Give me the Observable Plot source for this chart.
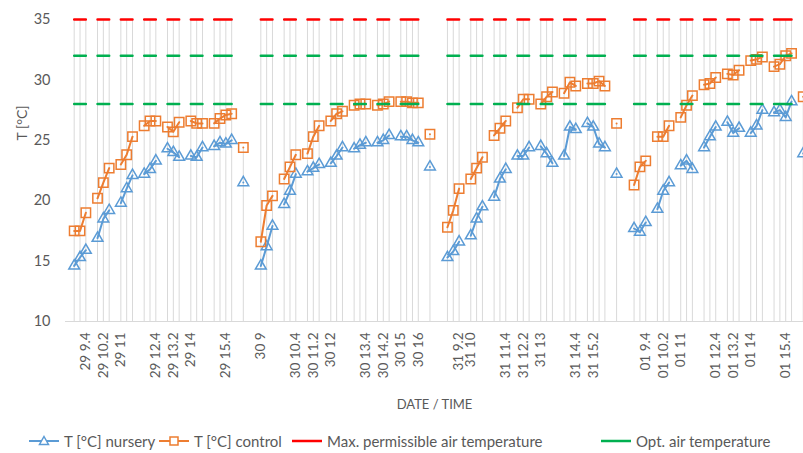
<!DOCTYPE html>
<html><head><meta charset="utf-8">
<script src="https://cdn.jsdelivr.net/npm/d3@7"></script>
<script src="https://cdn.jsdelivr.net/npm/@observablehq/plot@0.6"></script>
<style>
html,body{margin:0;padding:0;background:#fff;overflow:hidden;width:803px;height:453px;}
#chart{width:803px;height:428px;}
.legend{position:relative;height:25px;font:15px Lato,sans-serif;color:#595959;}
.item{position:absolute;top:0;height:25px;display:flex;align-items:center;white-space:nowrap;}
.item svg{margin-right:4px;}
</style></head><body><div id="chart"></div><div class="legend" id="legend"></div>
<script>
// ---- data ----
const days = ["29", "30", "31", "01"];
const dayStart = [0, 32, 64, 96];           // first category of each day
const slotOffset = [0,1,2, 4,5,6, 8,9,10, 12,13,14, 16,17,18, 20,21,22, 24,25,26,27, 29];
const refSlotCount = 22;                    // reference series present on the first 22 slots

const nursery29 = [14.6,15.3,15.9, 16.9,18.5,19.2, 19.8,21.0,22.1, 22.2,22.6,23.3, 24.3,24.0,23.6, 23.7,23.6,24.4, 24.5,24.8,24.7,25.0, 21.5];
const nursery30 = [14.6,16.2,17.9, 19.7,20.8,22.2, 22.4,22.7,23.0, 23.1,23.7,24.4, 24.3,24.6,24.8, 24.8,25.0,25.4, 25.3,25.3,25.0,24.8, 22.8];
const nursery31 = [15.3,15.8,16.6, 17.1,18.5,19.5, 20.3,21.8,22.6, 23.7,23.7,24.4, 24.5,23.9,23.1, 23.7,26.1,25.9, 26.4,26.1,24.7,24.4, 22.2];
const nursery01 = [17.7,17.4,18.2, 19.3,20.8,21.5, 22.9,23.3,22.6, 24.4,25.3,26.1, 26.5,25.6,26.0, 25.6,26.2,27.5, 27.3,27.5,26.9,28.2, 23.9];

const control29 = [17.5,17.5,19.0, 20.2,21.5,22.7, 23.0,23.8,25.3, 26.2,26.6,26.6, 26.1,25.7,26.5, 26.6,26.4,26.4, 26.4,26.8,27.1,27.2, 24.4];
const control30 = [16.6,19.6,20.4, 21.8,22.8,23.8, 23.9,25.3,26.2, 26.6,27.2,27.4, 27.9,28.0,28.0, 27.9,28.0,28.2, 28.2,28.2,28.1,28.1, 25.5];
const control31 = [17.8,19.2,21.0, 21.8,22.7,23.6, 25.4,26.0,26.6, 27.7,28.4,28.4, 28.0,28.6,29.0, 28.9,29.8,29.5, 29.7,29.7,29.9,29.5, 26.4];
const control01 = [21.3,22.8,23.3, 25.3,25.3,26.2, 26.9,27.9,28.7, 29.6,29.7,30.2, 30.5,30.4,30.8, 31.6,31.7,31.9, 31.1,31.3,32.0,32.2, 28.6];

const maxPermissible = 35;
const optHigh = 32;
const optLow = 28;

const tickIndex = [2,5,8,14,17,20,26, 32,38,41,44,50,53,56,59, 66,68,74,77,80,86,89, 98,101,104,110,113,116,122];
const tickLabel = ["29 9.4","29 10.2","29 11","29 12.4","29 13.2","29 14","29 15.4",
  "30 9","30 10.4","30 11.2","30 12","30 13.4","30 14.2","30 15","30 16",
  "31 9.2","31 10","31 11.4","31 12.2","31 13","31 14.4","31 15.2",
  "01 9.4","01 10.2","01 11","01 12.4","01 13.2","01 14","01 15.4"];
const yTicks = [10, 15, 20, 25, 30, 35];

const colors = {nursery: "#5B9BD5", control: "#ED7D31", max: "#FF0000", opt: "#00B050"};

// ---- table ----
const N = 128;
const rows = d3.range(N).map(i => ({i, nursery: null, control: null, max: null, optHigh: null, optLow: null}));
const nurseryDays = [nursery29, nursery30, nursery31, nursery01];
const controlDays = [control29, control30, control31, control01];
days.forEach((d, di) => {
  slotOffset.forEach((off, k) => {
    const r = rows[dayStart[di] + off];
    r.nursery = nurseryDays[di][k];
    r.control = controlDays[di][k];
    if (k < refSlotCount) { r.max = maxPermissible; r.optHigh = optHigh; r.optLow = optLow; }
  });
});
rows.forEach(r => {
  const vals = [r.nursery, r.control, r.max, r.optHigh, r.optLow].filter(v => v != null);
  r.top = vals.length ? d3.max(vals) : null;
});
const drops = rows.filter(r => r.top != null);
const labelOf = new Map(tickIndex.map((t, k) => [t, tickLabel[k]]));

const chart = Plot.plot({
  width: 803, height: 428,
  marginLeft: 65, marginRight: 0, marginTop: 19, marginBottom: 107,
  x: {type: "linear", domain: [-1.49, 125.05]},
  y: {domain: [10, 35]},
  style: {fontFamily: "Lato, sans-serif", fontSize: "14px", color: "#595959", background: "white"},
  marks: [
    Plot.ruleX(drops, {x: "i", y1: 10, y2: "top", stroke: "#d9d9d9", strokeWidth: 1}),
    Plot.ruleY([10], {stroke: "#d9d9d9", strokeWidth: 1}),
    Plot.axisY({ticks: yTicks, tickSize: 0, tickPadding: 15, label: null, fill: "#595959", fontSize: 14.5}),
    Plot.axisX({ticks: tickIndex, tickFormat: t => labelOf.get(t), tickRotate: -90, tickSize: 0, tickPadding: 11,
      label: null, fill: "#595959", fontSize: 13.5}),
    Plot.text(["DATE / TIME"], {frameAnchor: "bottom", dy: 87, fill: "#595959", fontSize: 13}),
    Plot.text(["T [°C]"], {frameAnchor: "top-left", dx: -48, dy: 121, rotate: -90, fill: "#595959", fontSize: 14}),
    Plot.line(rows, {x: "i", y: "nursery", stroke: colors.nursery, strokeWidth: 2}),
    Plot.dot(rows, {x: "i", y: "nursery", symbol: "triangle", r: 4, stroke: colors.nursery, strokeWidth: 1.5, fill: "none"}),
    Plot.line(rows, {x: "i", y: "control", stroke: colors.control, strokeWidth: 2}),
    Plot.dot(rows, {x: "i", y: "control", symbol: "square", r: 5.3, stroke: colors.control, strokeWidth: 1.5, fill: "none"}),
    Plot.line(rows, {x: "i", y: "max", stroke: colors.max, strokeWidth: 2.5}),
    Plot.line(rows, {x: "i", y: "optHigh", stroke: colors.opt, strokeWidth: 2.5}),
    Plot.line(rows, {x: "i", y: "optLow", stroke: colors.opt, strokeWidth: 2.5})
  ]
});
document.getElementById("chart").appendChild(chart);

// ---- legend ----
const legendItems = [
  {label: "T [°C] nursery", color: colors.nursery, marker: "tri", left: 28},
  {label: "T [°C] control", color: colors.control, marker: "sq", left: 158},
  {label: "Max. permissible air temperature", color: colors.max, marker: null, left: 291},
  {label: "Opt. air temperature", color: colors.opt, marker: null, left: 600}
];
const lg = d3.select("#legend");
legendItems.forEach(it => {
  const item = lg.append("div").attr("class", "item").style("left", it.left + "px");
  const s = item.append("svg").attr("width", 32).attr("height", 14);
  s.append("line").attr("x1", 1).attr("x2", 31).attr("y1", 7).attr("y2", 7).attr("stroke", it.color).attr("stroke-width", it.marker ? 2 : 2.5);
  if (it.marker === "tri") s.append("path").attr("d", "M16,2.5L20.5,10.5L11.5,10.5Z").attr("fill", "white").attr("stroke", it.color).attr("stroke-width", 1.5);
  if (it.marker === "sq") s.append("rect").attr("x", 12).attr("y", 3).attr("width", 8).attr("height", 8).attr("fill", "white").attr("stroke", it.color).attr("stroke-width", 1.5);
  item.append("span").text(it.label);
});
</script></body></html>
